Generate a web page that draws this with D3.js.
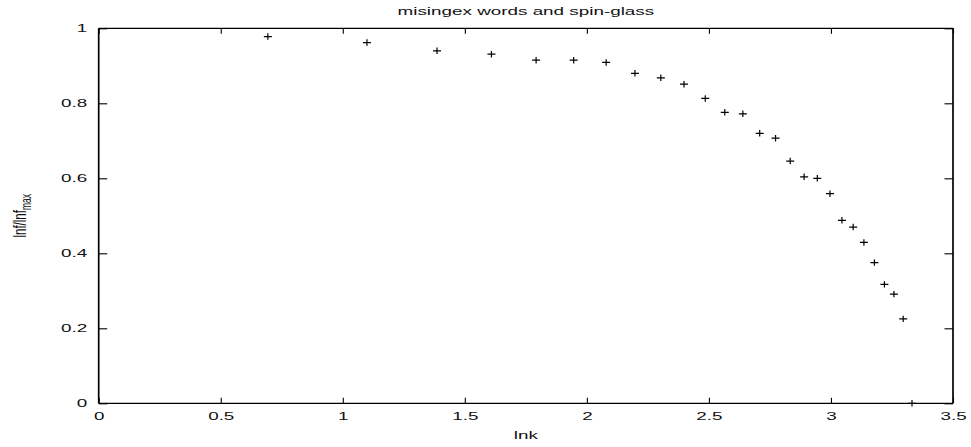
<!DOCTYPE html>
<html>
<head>
<meta charset="utf-8">
<script src="https://cdn.jsdelivr.net/npm/d3@7"></script>
<style>
  body { margin: 0; background: #fff; }
  text { font-family: "Liberation Sans", Arial, Helvetica, sans-serif; fill: #111; }
</style>
</head>
<body>
<div id="chart-area"></div>
<script>
// Data: x = ln k, y = lnf / lnf_max
var lnk = [0.693, 1.099, 1.386, 1.609, 1.792, 1.946, 2.079, 2.197, 2.303, 2.398,
           2.485, 2.565, 2.639, 2.708, 2.773, 2.833, 2.890, 2.944, 2.996, 3.045,
           3.091, 3.135, 3.178, 3.219, 3.258, 3.296, 3.332];
var ratio = [0.978, 0.962, 0.940, 0.931, 0.915, 0.915, 0.909, 0.880, 0.868, 0.851,
             0.813, 0.776, 0.772, 0.720, 0.707, 0.646, 0.604, 0.600, 0.559, 0.488,
             0.470, 0.429, 0.375, 0.317, 0.291, 0.225, 0.0];
var xTicks = [0, 0.5, 1, 1.5, 2, 2.5, 3, 3.5];
var yTicks = [0, 0.2, 0.4, 0.6, 0.8, 1];

var points = lnk.map(function (d, i) { return { x: d, y: ratio[i] }; });

// Layout
var W = 971, H = 447;
var margin = { left: 98.7, right: 18, top: 28.3, bottom: 43.7 },
    width = W - margin.left - margin.right,
    height = H - margin.top - margin.bottom;
var stretch = "scale(1.64,1)"; // glyphs in the picture are wide

var svg = d3.select("#chart-area").append("svg")
    .attr("width", W)
    .attr("height", H);

var g = svg.append("g")
    .attr("transform", "translate(" + margin.left + "," + margin.top + ")");

var x = d3.scaleLinear().domain([0, 3.5]).range([0, width]);
var y = d3.scaleLinear().domain([0, 1]).range([height, 0]);

// Axes (ticks point inward, mirrored on top/right)
var xAxis = g.append("g")
    .attr("transform", "translate(0," + height + ")")
    .call(d3.axisBottom(x).tickValues(xTicks).tickSize(-5.5).tickPadding(8.5)
        .tickFormat(d3.format("")));
xAxis.selectAll("text")
    .attr("font-size", "11.5px")
    .attr("transform", stretch);

var yAxis = g.append("g")
    .call(d3.axisLeft(y).tickValues(yTicks).tickSize(-8.5)
        .tickFormat(d3.format("")));
yAxis.selectAll("text")
    .attr("font-size", "11.5px")
    .attr("x", 0)
    .attr("transform", "translate(-11.4,0) " + stretch);

g.append("g")
    .call(d3.axisTop(x).tickValues(xTicks).tickSize(-5.5).tickFormat(""));
g.append("g")
    .attr("transform", "translate(" + width + ",0)")
    .call(d3.axisRight(y).tickValues(yTicks).tickSize(-8.5).tickFormat(""));

g.selectAll(".domain").remove();
g.selectAll(".tick line").attr("stroke", "#000").attr("stroke-width", 1.1);

// Border
g.append("line").attr("x1", 0).attr("x2", width).attr("y1", 0).attr("y2", 0)
    .attr("stroke", "#000").attr("stroke-width", 1.2);
g.append("line").attr("x1", 0).attr("x2", width).attr("y1", height).attr("y2", height)
    .attr("stroke", "#000").attr("stroke-width", 1.2);
g.append("line").attr("x1", 0).attr("x2", 0).attr("y1", 0).attr("y2", height)
    .attr("stroke", "#000").attr("stroke-width", 1.7);
g.append("line").attr("x1", width).attr("x2", width).attr("y1", 0).attr("y2", height)
    .attr("stroke", "#000").attr("stroke-width", 1.7);

// Points as plus signs
g.selectAll(".pt")
    .data(points)
    .enter().append("path")
    .attr("class", "pt")
    .attr("transform", function (d) { return "translate(" + x(d.x) + "," + y(d.y) + ")"; })
    .attr("d", "M-4,0H4M0,-3.2V3.2")
    .attr("stroke", "#000")
    .attr("stroke-width", 1.2)
    .attr("fill", "none");

// Title
svg.append("text")
    .attr("font-size", "11.5px")
    .attr("text-anchor", "middle")
    .attr("transform", "translate(" + (margin.left + width / 2) + ",14.5) " + stretch)
    .text("misingex words and spin-glass");

// X label
svg.append("text")
    .attr("font-size", "11.5px")
    .attr("text-anchor", "middle")
    .attr("transform", "translate(" + (margin.left + width / 2) + ",438.5) " + stretch)
    .text("lnk");

// Y label with subscript
var yl = svg.append("text")
    .attr("font-size", "11.5px")
    .attr("text-anchor", "middle")
    .attr("transform", "translate(26," + (margin.top + height / 2) + ") " + stretch + " rotate(-90)");
yl.append("tspan").text("lnf/lnf");
yl.append("tspan").attr("font-size", "8.5px").attr("dy", "3").text("max");
</script>
</body>
</html>
